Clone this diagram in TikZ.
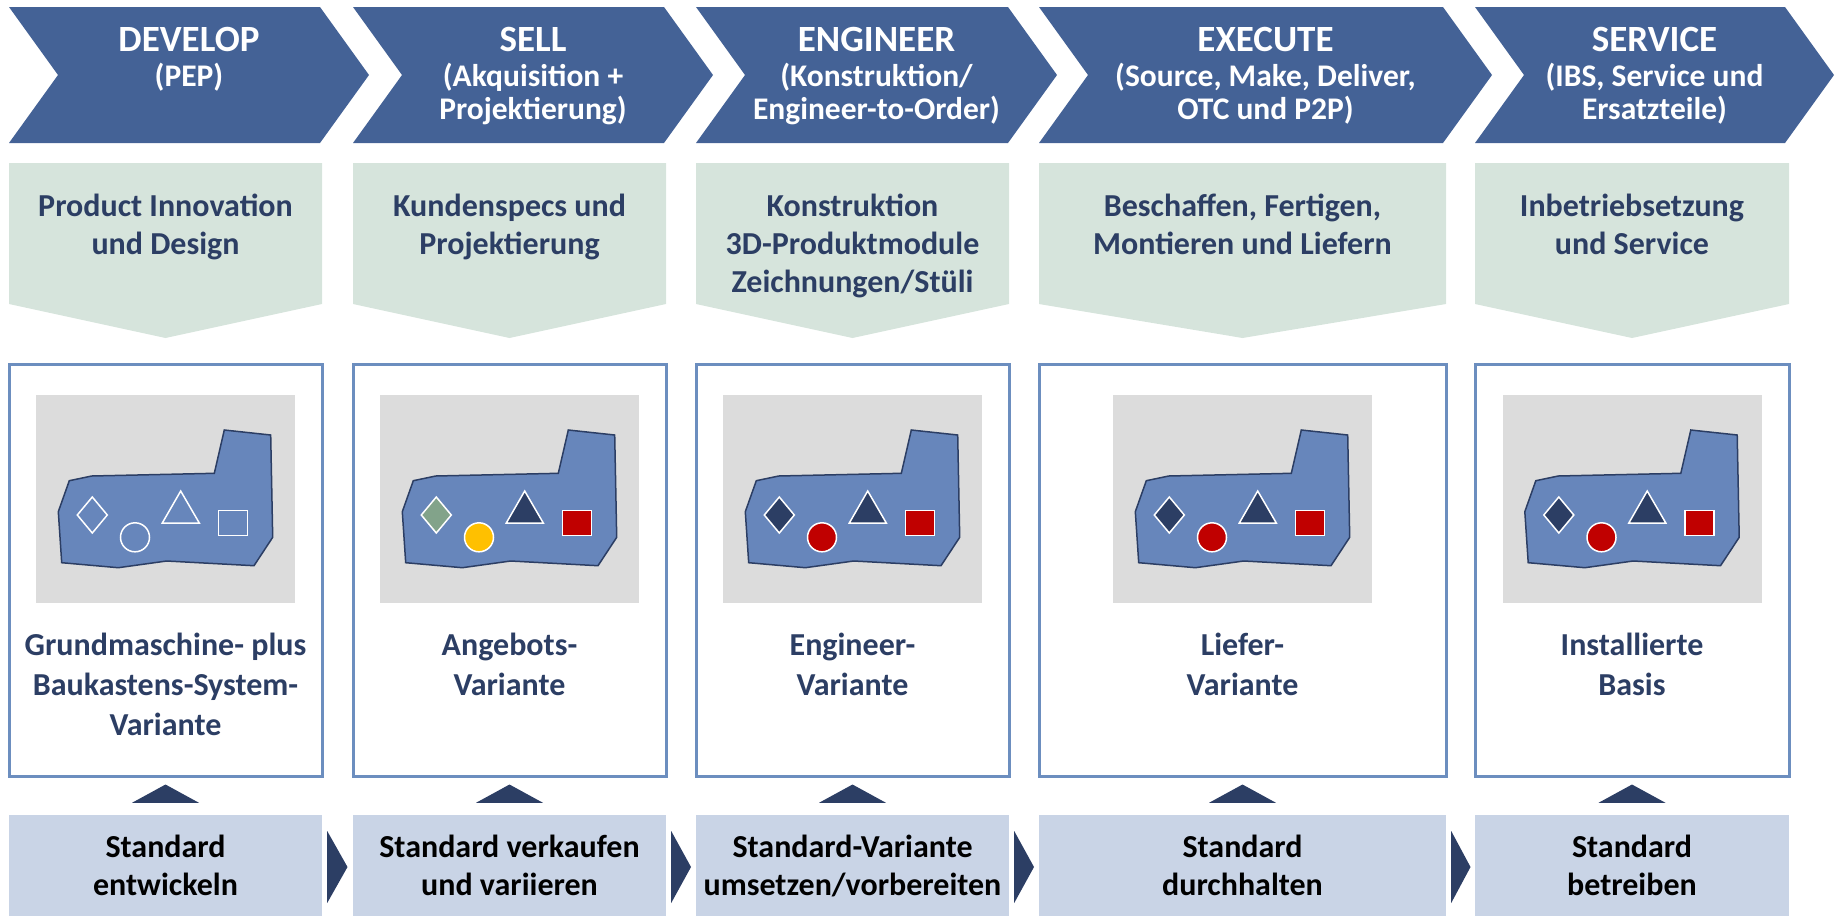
\documentclass[tikz,border=0pt]{standalone}
\usepackage{fontspec}
\setmainfont{Carlito}
\usepackage{tikz}
\usetikzlibrary{calc}
\usepackage{xcolor}

\definecolor{chevblue}{RGB}{68,98,150}
\definecolor{phasegreen}{RGB}{214,228,220}
\definecolor{darknavy}{RGB}{44,62,100}
\definecolor{frameblue}{RGB}{108,142,191}
\definecolor{machgray}{RGB}{220,220,220}
\definecolor{machblue}{RGB}{103,134,187}
\definecolor{basegray}{RGB}{201,212,230}
\definecolor{signred}{RGB}{192,0,0}
\definecolor{signyellow}{RGB}{255,192,0}
\definecolor{signgreen}{RGB}{130,163,138}

\begin{document}
\begin{tikzpicture}[% styles used in image code
          x = 1pt, y = -1pt,  % one unit per pixel, y runs down
    title/.style = {text=white, inner sep=0pt, anchor=base,
                    font=\bfseries\fontsize{37}{37}\selectfont},
 subtitle/.style = {text=white, inner sep=0pt, anchor=north, align=center,
                    font=\bfseries\fontsize{31.5}{33}\selectfont,
                    execute at begin node=\strut},
 tasktext/.style = {text=darknavy, inner sep=0pt, anchor=north, align=center,
                    font=\bfseries\fontsize{32}{38}\selectfont,
                    execute at begin node=\strut},
  vartext/.style = {tasktext, font=\bfseries\fontsize{32}{40}\selectfont},
 basetext/.style = {tasktext, text=black},
   varbox/.style = {draw=frameblue, line width=3pt, fill=white,
                    minimum height=412pt, inner sep=0pt},
  basebox/.style = {fill=basegray, minimum height=101pt, inner sep=0pt},
     sign/.style = {draw=white, line width=1.5pt},
pics/machine/.style n args = {4}{code={%
        \fill[machgray] (0,0) rectangle (259,208);
        \filldraw[fill=machblue, draw=darknavy, line width=1.5pt]
            (33.3,85.7) -- (55.7,81) -- (178.3,78.3) -- (188.3,35)
            -- (234.7,40) -- (236.7,142.3) -- (218,170.7) -- (130.7,166)
            -- (82.3,172.7) -- (25.7,167.7) -- (22.3,116.7) -- cycle;
        \filldraw[sign, fill=#1] (41.3,120) -- (56.3,102) -- (71.3,120) -- (56.3,138) -- cycle;
        \filldraw[sign, fill=#2] (99,142.3) circle (14.5pt);
        \filldraw[sign, fill=#3] (144.7,96) -- (163.3,128) -- (126.3,128) -- cycle;
        \filldraw[sign, fill=#4] (182.3,115.7) rectangle (211.3,140.3);
        }}
                    ]
    \useasboundingbox (0,0) rectangle (1835,916);

    % process chevrons
    \fill[chevblue] (9,7) -- (320,7) -- (369,75) -- (320,143) -- (9,143) -- (58,75) -- cycle;
    \fill[chevblue] (353,7) -- (664,7) -- (713,75) -- (664,143) -- (353,143) -- (402,75) -- cycle;
    \fill[chevblue] (696,7) -- (1008,7) -- (1057,75) -- (1008,143) -- (696,143) -- (745,75) -- cycle;
    \fill[chevblue] (1039,7) -- (1443,7) -- (1492,75) -- (1443,143) -- (1039,143) -- (1088,75) -- cycle;
    \fill[chevblue] (1475,7) -- (1785,7) -- (1834,75) -- (1785,143) -- (1475,143) -- (1524,75) -- cycle;

    \node[title] (hd1) at (189,51.5) {DEVELOP};
    \node[title] (hd2) at (533,51.5) {SELL};
    \node[title] (hd3) at (876.5,51.5) {ENGINEER};
    \node[title] (hd4) at (1265.5,51.5) {EXECUTE};
    \node[title] (hd5) at (1654.5,51.5) {SERVICE};

    \node[subtitle] (sub1) at (189,63.4) {(PEP)};
    \node[subtitle] (sub2) at (533,63.4) {(Akquisition +\\Projektierung)};
    \node[subtitle] (sub3) at (876.5,63.4) {(Konstruktion/\\Engineer-to-Order)};
    \node[subtitle] (sub4) at (1265.5,63.4) {(Source, Make, Deliver,\\OTC und P2P)};
    \node[subtitle] (sub5) at (1654.5,63.4) {(IBS, Service und\\Ersatzteile)};

    % task arrows
    \fill[phasegreen] (9,163) -- (322,163) -- (322,304) -- (165.5,338) -- (9,304) -- cycle;
    \fill[phasegreen] (353,163) -- (666,163) -- (666,304) -- (509.5,338) -- (353,304) -- cycle;
    \fill[phasegreen] (696,163) -- (1009,163) -- (1009,304) -- (852.5,338) -- (696,304) -- cycle;
    \fill[phasegreen] (1039,163) -- (1446,163) -- (1446,304) -- (1242.5,338) -- (1039,304) -- cycle;
    \fill[phasegreen] (1475,163) -- (1789,163) -- (1789,304) -- (1632,338) -- (1475,304) -- cycle;

    \node[tasktext] (task1) at (165.5,193.5) {Product Innovation\\und Design};
    \node[tasktext] (task2) at (509.5,193.5) {Kundenspecs und\\Projektierung};
    \node[tasktext] (task3) at (852.5,193.5) {Konstruktion\\3D-Produktmodule\\Zeichnungen/Stüli};
    \node[tasktext] (task4) at (1242.5,193.5) {Beschaffen, Fertigen,\\Montieren und Liefern};
    \node[tasktext] (task5) at (1632,193.5) {Inbetriebsetzung\\und Service};

    % variant frames with machine sketch
    \node[varbox, minimum width=313pt] (frame1) at (165.5,570) {};
    \node[varbox, minimum width=313pt] (frame2) at (509.5,570) {};
    \node[varbox, minimum width=313pt] (frame3) at (852.5,570) {};
    \node[varbox, minimum width=407pt] (frame4) at (1242.5,570) {};
    \node[varbox, minimum width=314pt] (frame5) at (1632,570) {};

    \pic at (36,395) {machine={none}{none}{none}{none}};
    \pic at (380,395) {machine={signgreen}{signyellow}{darknavy}{signred}};
    \pic at (723,395) {machine={darknavy}{signred}{darknavy}{signred}};
    \pic at (1113,395) {machine={darknavy}{signred}{darknavy}{signred}};
    \pic at (1502.5,395) {machine={darknavy}{signred}{darknavy}{signred}};

    \node[vartext] (var1) at (165.5,632.5) {Grundmaschine- plus\\Baukastens-System-\\Variante};
    \node[vartext] (var2) at (509.5,632.5) {Angebots-\\Variante};
    \node[vartext] (var3) at (852.5,632.5) {Engineer-\\Variante};
    \node[vartext] (var4) at (1242.5,632.5) {Liefer-\\Variante};
    \node[vartext] (var5) at (1632,632.5) {Installierte\\Basis};

    % standard boxes
    \node[basebox, minimum width=313pt] (base1) at (165.5,865.5) {};
    \node[basebox, minimum width=313pt] (base2) at (509.5,865.5) {};
    \node[basebox, minimum width=313pt] (base3) at (852.5,865.5) {};
    \node[basebox, minimum width=407pt] (base4) at (1242.5,865.5) {};
    \node[basebox, minimum width=314pt] (base5) at (1632,865.5) {};

    \node[basetext] (std1) at (165.5,835) {Standard\\entwickeln};
    \node[basetext] (std2) at (509.5,835) {Standard verkaufen\\und variieren};
    \node[basetext] (std3) at (852.5,835) {Standard-Variante\\umsetzen/vorbereiten};
    \node[basetext] (std4) at (1242.5,835) {Standard\\durchhalten};
    \node[basetext] (std5) at (1632,835) {Standard\\betreiben};

    % pointers up to the frames
    \foreach \i in {1,...,5}
        \fill[darknavy] ($(base\i.north)+(-33.5,-12)$) -- ($(frame\i.south)+(0,7)$)
                        -- ($(base\i.north)+(33.5,-12)$) -- cycle;

    % pointers between the standard boxes
    \foreach \i/\j in {1/2,2/3,3/4,4/5}
        \fill[darknavy] ($(base\i.east)+(5,-34.5)$) -- ($(base\i.east)!0.5!(base\j.west)+(10,1.5)$)
                        -- ($(base\i.east)+(5,37.5)$) -- cycle;
\end{tikzpicture}
\end{document}
